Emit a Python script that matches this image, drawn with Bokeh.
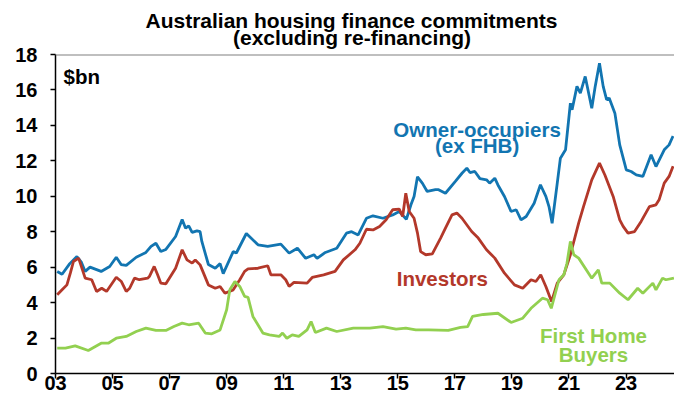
from bokeh.plotting import figure
from bokeh.models import FixedTicker, Span, Label, Title
from bokeh.embed import file_html
from bokeh.resources import INLINE

# ---- data ($bn) ----
oo_x = [2003.06, 2003.23, 2003.5, 2003.75, 2003.9, 2004.04, 2004.21, 2004.6, 2004.9, 2005.13,
        2005.3, 2005.48, 2005.83, 2006.17, 2006.35, 2006.52, 2006.69, 2006.87, 2007.21, 2007.44,
        2007.56, 2007.67, 2007.79, 2007.96, 2008.07, 2008.13, 2008.36, 2008.6, 2008.77, 2008.88,
        2009.23, 2009.34, 2009.69, 2010.1, 2010.44, 2010.9, 2011.19, 2011.48, 2011.77, 2012.06,
        2012.17, 2012.46, 2012.86, 2013.2, 2013.38, 2013.61, 2013.9, 2014.13, 2014.48, 2014.82,
        2015.05, 2015.3, 2015.46, 2015.57, 2015.69, 2015.86, 2016.03, 2016.32, 2016.43, 2016.67,
        2017.01, 2017.25, 2017.42, 2017.53, 2017.7, 2017.88, 2018.11, 2018.22, 2018.4, 2018.51,
        2018.74, 2018.97, 2019.15, 2019.32, 2019.5, 2019.78, 2020.0, 2020.19, 2020.3, 2020.41,
        2020.59, 2020.7, 2020.88, 2021.05, 2021.11, 2021.28, 2021.4, 2021.57, 2021.8, 2021.92,
        2022.07, 2022.2, 2022.32, 2022.41, 2022.61, 2022.78, 2023.01, 2023.18, 2023.36, 2023.59,
        2023.88, 2024.05, 2024.34, 2024.51, 2024.65]
oo_y = [5.76, 5.6, 6.2, 6.6, 6.3, 5.76, 6.0, 5.76, 6.04, 6.56,
        6.15, 6.1, 6.56, 6.83, 7.17, 7.35, 6.88, 7.0, 7.73, 8.69,
        8.2, 8.33, 7.96, 8.05, 8.0, 7.45, 6.15, 5.94, 6.2, 5.64,
        6.88, 6.8, 7.9, 7.26, 7.17, 7.3, 6.79, 7.07, 6.5, 6.7,
        6.5, 6.83, 7.07, 7.92, 8.0, 7.82, 8.76, 8.9, 8.76, 8.95,
        9.14, 8.7, 9.52, 9.99, 11.1, 10.74, 10.27, 10.37, 10.37, 10.17,
        10.83, 11.3, 11.59, 11.34, 11.4, 11.0, 10.93, 10.74, 11.02, 10.64,
        9.99, 9.14, 9.24, 8.67, 8.86, 9.61, 10.65, 9.99, 9.42, 8.48,
        10.74, 12.15, 12.62, 15.25, 14.88, 16.2, 15.82, 16.76, 14.97, 16.2,
        17.51, 16.2, 15.45, 15.54, 14.69, 12.9, 11.49, 11.4, 11.21, 11.12,
        12.34, 11.68, 12.62, 12.9, 13.4]

inv_x = [2003.06, 2003.23, 2003.4, 2003.52, 2003.63, 2003.81, 2004.04, 2004.27, 2004.44, 2004.62,
         2004.79, 2005.13, 2005.31, 2005.48, 2005.6, 2005.77, 2005.94, 2006.23, 2006.29, 2006.46,
         2006.58, 2006.69, 2006.87, 2007.21, 2007.44, 2007.61, 2007.79, 2007.9, 2008.07, 2008.36,
         2008.6, 2008.77, 2008.94, 2009.23, 2009.46, 2009.63, 2009.75, 2010.1, 2010.44, 2010.55,
         2010.9, 2011.07, 2011.19, 2011.36, 2011.82, 2012.0, 2012.4, 2012.8, 2013.09, 2013.5,
         2013.67, 2013.9, 2014.13, 2014.36, 2014.59, 2014.82, 2015.05, 2015.17, 2015.28, 2015.4,
         2015.57, 2015.69, 2015.8, 2015.98, 2016.21, 2016.5, 2016.67, 2016.9, 2017.07, 2017.25,
         2017.59, 2017.82, 2018.11, 2018.4, 2018.74, 2019.09, 2019.38, 2019.67, 2019.84, 2020.01,
         2020.19, 2020.39, 2020.59, 2020.82, 2021.05, 2021.34, 2021.51, 2021.8, 2022.07, 2022.26,
         2022.55, 2022.78, 2022.9, 2023.07, 2023.3, 2023.53, 2023.82, 2024.05, 2024.16, 2024.34,
         2024.51, 2024.65]
inv_y = [4.44, 4.72, 5.0, 5.66, 6.32, 6.51, 5.38, 5.29, 4.63, 4.81,
         4.63, 5.43, 5.19, 4.63, 4.81, 5.38, 5.29, 5.38, 5.47, 6.04,
         5.57, 5.1, 5.06, 5.94, 6.98, 6.41, 6.23, 6.41, 6.13, 5.0,
         4.81, 4.91, 4.53, 4.72, 5.29, 5.76, 5.9, 5.94, 6.08, 5.57,
         5.57, 5.29, 4.91, 5.14, 5.1, 5.42, 5.57, 5.76, 6.41, 6.98,
         7.35, 8.14, 8.1, 8.3, 8.67, 9.24, 9.27, 8.86, 10.17, 9.14,
         8.76, 7.92, 6.88, 6.7, 6.75, 7.64, 8.2, 8.95, 9.05, 8.76,
         8.01, 7.64, 6.98, 6.51, 5.66, 5.0, 4.81, 5.29, 5.19, 5.57,
         4.91, 4.06, 5.1, 5.57, 6.7, 8.48, 9.42, 10.93, 11.87, 11.2,
         9.99, 8.67, 8.3, 7.92, 8.01, 8.58, 9.42, 9.52, 9.8, 10.74,
         11.12, 11.7]

fhb_x = [2003.06, 2003.35, 2003.69, 2004.15, 2004.6, 2004.85, 2005.13, 2005.48, 2005.83, 2006.17,
         2006.52, 2006.87, 2007.15, 2007.44, 2007.67, 2008.02, 2008.25, 2008.48, 2008.77, 2009.0,
         2009.11, 2009.29, 2009.46, 2009.63, 2009.75, 2009.92, 2010.27, 2010.5, 2010.84, 2010.96,
         2011.11, 2011.3, 2011.53, 2011.82, 2011.96, 2012.11, 2012.5, 2012.86, 2013.44, 2014.02,
         2014.48, 2014.94, 2015.28, 2015.63, 2016.09, 2016.77, 2017.2, 2017.45, 2017.62, 2018.0,
         2018.51, 2018.97, 2019.38, 2019.67, 2020.07, 2020.25, 2020.38, 2020.65, 2020.82, 2020.93,
         2021.05, 2021.17, 2021.34, 2021.8, 2022.03, 2022.15, 2022.43, 2022.78, 2023.07, 2023.41,
         2023.59, 2023.94, 2024.05, 2024.28, 2024.4, 2024.68]
fhb_y = [1.43, 1.43, 1.56, 1.3, 1.71, 1.71, 1.99, 2.09, 2.37, 2.56,
         2.43, 2.43, 2.65, 2.84, 2.75, 2.84, 2.28, 2.24, 2.46, 3.6,
         4.72, 5.19, 4.91, 4.35, 4.3, 3.22, 2.28, 2.18, 2.09, 2.28,
         1.99, 2.18, 2.09, 2.46, 2.93, 2.31, 2.56, 2.37, 2.56, 2.56,
         2.65, 2.5, 2.56, 2.46, 2.46, 2.43, 2.6, 2.65, 3.22, 3.33,
         3.4, 2.88, 3.12, 3.68, 4.25, 4.16, 3.68, 5.29, 5.57, 6.22,
         7.45, 6.7, 6.51, 5.38, 5.85, 5.1, 5.1, 4.53, 4.16, 4.81,
         4.53, 5.1, 4.72, 5.38, 5.29, 5.38]

x_ticks = [2003, 2005, 2007, 2009, 2011, 2013, 2015, 2017, 2019, 2021, 2023]
x_tick_labels = ["03", "05", "07", "09", "11", "13", "15", "17", "19", "21", "23"]
y_ticks = [0, 2, 4, 6, 8, 10, 12, 14, 16, 18]

title_line1 = "Australian housing finance commitments"
title_line2 = "(excluding re-financing)"

BLUE = "#1275b1"
RED = "#b3382a"
GREEN = "#92d050"
FONT = "Liberation Sans"

p = figure(width=674, height=392, output_backend="svg", toolbar_location=None,
           x_range=(2003, 2024.7), y_range=(0, 18),
           min_border_left=55, min_border_right=0, min_border_top=54, min_border_bottom=10)
p.outline_line_color = None
p.xgrid.visible = False
p.ygrid.visible = False
p.background_fill_color = "white"

# two-line title; second line centred under the first with no-break spaces
p.title = Title(text=title_line1 + "\n" + "\u00a0" * 15 + title_line2,
                align="left", offset=90, standoff=10, text_font=FONT,
                text_font_style="bold", text_font_size="21px", text_color="black",
                text_line_height=0.78)

for ax in (p.xaxis[0], p.yaxis[0]):
    ax.axis_line_color = "black"
    ax.axis_line_width = 1.5
    ax.major_tick_line_color = "black"
    ax.major_tick_line_width = 1.5
    ax.major_tick_in = 0
    ax.major_tick_out = 5
    ax.minor_tick_line_color = None
    ax.major_label_text_font = FONT
    ax.major_label_text_font_style = "bold"
    ax.major_label_text_font_size = "20px"
    ax.major_label_text_color = "black"

p.xaxis.ticker = FixedTicker(ticks=x_ticks)
p.xaxis.major_label_overrides = {t: l for t, l in zip(x_ticks, x_tick_labels)}
p.xaxis.major_label_standoff = -3
p.yaxis.ticker = FixedTicker(ticks=y_ticks)
p.yaxis.major_label_standoff = 13

p.add_layout(Span(location=18, dimension="width", line_color="#808080", line_width=2))

p.line(oo_x, oo_y, line_color=BLUE, line_width=2.8)
p.line(inv_x, inv_y, line_color=RED, line_width=2.8)
p.line(fhb_x, fhb_y, line_color=GREEN, line_width=2.8)

def lab(x, y, text, color, align="center", size="20.5px"):
    p.add_layout(Label(x=x, y=y, text=text, text_color=color, text_font=FONT,
                       text_font_style="bold", text_font_size=size,
                       text_align=align, text_baseline="alphabetic"))

lab(2003.28, 16.76, "$bn", "black", "left")
lab(2017.78, 13.77, "Owner-occupiers", BLUE)
lab(2017.78, 12.87, "(ex FHB)", BLUE)
lab(2016.56, 5.38, "Investors", RED)
lab(2021.86, 2.13, "First Home", GREEN)
lab(2021.86, 1.07, "Buyers", GREEN)

open("out.html", "w").write(file_html(p, INLINE))
